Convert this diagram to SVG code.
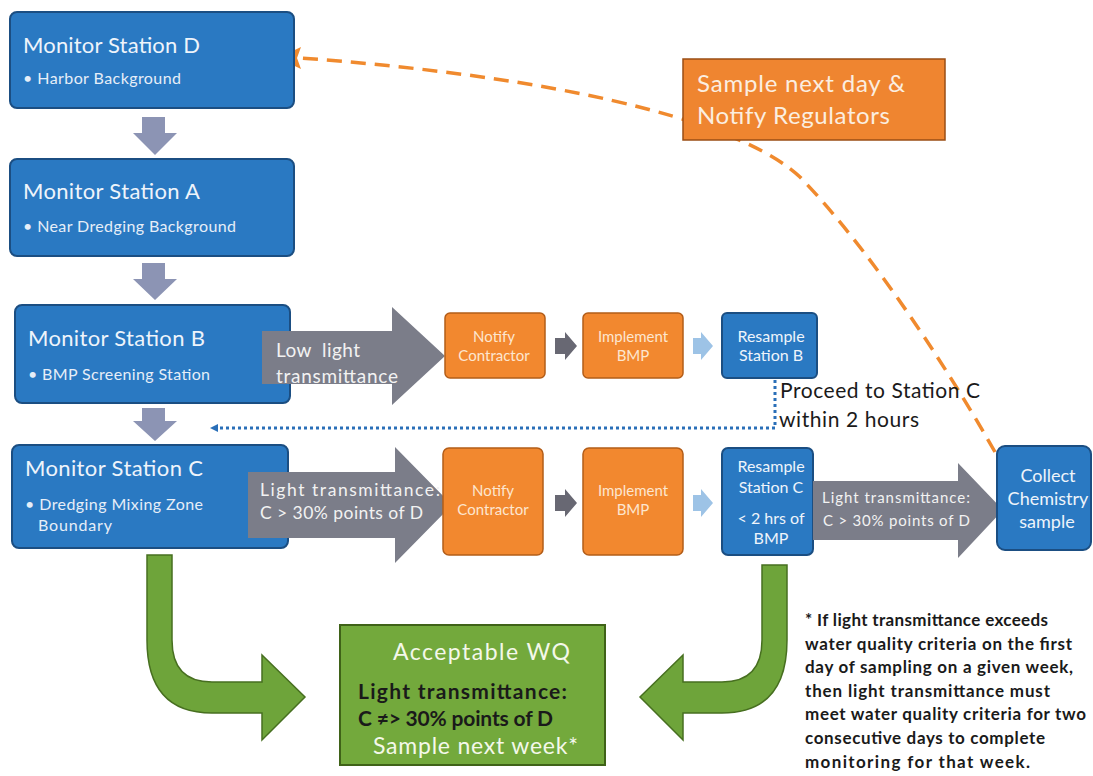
<svg xmlns="http://www.w3.org/2000/svg" width="1093" height="776" viewBox="0 0 1093 776">
<defs>
<style>
.blue{fill:#2a79c2;stroke:#1b4e82;stroke-width:2}
.orange{fill:#f2882f;stroke:#b35d18;stroke-width:1.5}
.t{font-family:Lato,"Open Sans",sans-serif}
.title{font-size:22px;fill:#eef4fb}
.bul{font-size:16px;fill:#e6eef8}
.ot{font-size:15px;fill:#fde6cf;text-anchor:middle}
.bt{font-size:16px;fill:#eef4fb;text-anchor:middle}
.gt{fill:#f2f2f2}
.down{fill:#8c94b4}
.bigg{fill:#7b7d89}
.green{fill:#6ea43a;stroke:#476f20;stroke-width:1.5}
.foot{font-size:17px;fill:#1a1a1a;font-weight:bold}
</style>
<marker id="blueHead" markerWidth="8" markerHeight="8" refX="6" refY="4" orient="auto" markerUnits="userSpaceOnUse">
<path d="M0,0 L8,4 L0,8 Z" fill="#2a6fb8"/>
</marker>
</defs>
<rect width="1093" height="776" fill="#ffffff"/>

<g id="connectors">
<path class="down" d="M142,117 H165 V133 H177 L155,155 L133,133 H142 Z"/>
<path class="down" d="M142,263 H165 V279 H177 L155,300 L133,279 H142 Z"/>
<path class="down" d="M142,408 H165 V421 H177 L155,441 L133,421 H142 Z"/>
<path d="M775,380 V428 H212" fill="none" stroke="#2a6fb8" stroke-width="3" stroke-dasharray="3 3" marker-end="url(#blueHead)"/>
<path d="M995,452 C960,390 880,260 800,177 C750,130 600,80 300,58" fill="none" stroke="#f08a2e" stroke-width="3.5" stroke-dasharray="15 9"/>
<path d="M278,58 L301,47 L297,58 L301,69 Z" fill="#f08a2e"/>
<path d="M555,338 H565 V332 L577,346 L565,360 V354 H555 Z" fill="#686873"/>
<path d="M693,338 H701 V332 L713,346 L701,360 V354 H693 Z" fill="#9dc3e6"/>
<path d="M555,495 H565 V489 L577,503 L565,517 V511 H555 Z" fill="#686873"/>
<path d="M693,495 H701 V489 L713,503 L701,517 V511 H693 Z" fill="#9dc3e6"/>
<path class="green" d="M147,555 H172 V640 Q172,682 212,682 H262 V655 L305,697 L262,740 V713 H212 Q147,713 147,640 Z"/>
<path class="green" d="M787,565 H762 V640 Q762,682 722,682 H683 V655 L640,697 L683,740 V713 H722 Q787,713 787,640 Z"/>
</g>

<g id="stationD">
<rect class="blue" x="10" y="12" width="284" height="96" rx="7"/>
<text class="t title" x="23" y="53" textLength="177">Monitor Station D</text>
<text class="t bul" x="23" y="84" textLength="158">• Harbor Background</text>
</g>
<g id="stationA">
<rect class="blue" x="10" y="159" width="284" height="97" rx="7"/>
<text class="t title" x="23" y="199" textLength="177">Monitor Station A</text>
<text class="t bul" x="23" y="232" textLength="213">• Near Dredging Background</text>
</g>
<g id="stationB">
<rect class="blue" x="15" y="305" width="275" height="98" rx="7"/>
<text class="t title" x="28" y="346" textLength="177">Monitor Station B</text>
<text class="t bul" x="28" y="380" textLength="182">• BMP Screening Station</text>
</g>
<g id="stationC">
<rect class="blue" x="12" y="445" width="276" height="103" rx="7"/>
<text class="t title" x="25" y="476" textLength="178">Monitor Station C</text>
<text class="t bul" x="25" y="510" textLength="178">• Dredging Mixing Zone</text>
<text class="t bul" x="38" y="531" textLength="74">Boundary</text>
</g>

<g id="arrowLowLight">
<path class="bigg" d="M262,331 H392 V307 L445,356 L392,405 V384 H262 Z"/>
<text class="t" x="276" y="357" font-size="19" fill="#f2f2f2" textLength="84">Low&#160; light</text>
<text class="t" x="276" y="383" font-size="19" fill="#f2f2f2" textLength="122">transmittance</text>
</g>
<g id="notifyB">
<rect class="orange" x="445" y="313" width="100" height="65" rx="5"/>
<text class="t ot" x="494" y="342">Notify</text>
<text class="t ot" x="494" y="361">Contractor</text>
</g>
<g id="implementB">
<rect class="orange" x="583" y="313" width="100" height="65" rx="5"/>
<text class="t ot" x="633" y="342">Implement</text>
<text class="t ot" x="633" y="361">BMP</text>
</g>
<g id="resampleB">
<rect class="blue" x="722" y="313" width="95" height="65" rx="5"/>
<text class="t bt" x="771" y="342">Resample</text>
<text class="t bt" x="771" y="361">Station B</text>
</g>
<g id="proceedLabel">
<text class="t" x="780" y="398" font-size="21" fill="#1a1a1a" textLength="200">Proceed to Station C</text>
<text class="t" x="779" y="427" font-size="21" fill="#1a1a1a" textLength="140">within 2 hours</text>
</g>

<g id="arrowC1">
<path class="bigg" d="M248,472 H395 V447 L452,505 L395,563 V538 H248 Z"/>
<text class="t gt" x="260" y="496" font-size="17.5" textLength="180">Light transmittance:</text>
<text class="t gt" x="260" y="519" font-size="17.5" textLength="163">C &gt; 30% points of D</text>
</g>
<g id="notifyC">
<rect class="orange" x="443" y="448" width="100" height="107" rx="6"/>
<text class="t ot" x="493" y="496">Notify</text>
<text class="t ot" x="493" y="515">Contractor</text>
</g>
<g id="implementC">
<rect class="orange" x="583" y="448" width="100" height="107" rx="6"/>
<text class="t ot" x="633" y="496">Implement</text>
<text class="t ot" x="633" y="515">BMP</text>
</g>
<g id="resampleC">
<rect class="blue" x="722" y="448" width="91" height="107" rx="6"/>
<text class="t bt" x="771" y="472">Resample</text>
<text class="t bt" x="771" y="493">Station C</text>
<text class="t bt" x="771" y="524">&lt; 2 hrs of</text>
<text class="t bt" x="771" y="544">BMP</text>
</g>
<g id="arrowC2">
<path class="bigg" d="M813,481 H958 V463 L1003,510 L958,558 V540 H813 Z"/>
<text class="t gt" x="822" y="503" font-size="15" textLength="148">Light transmittance:</text>
<text class="t gt" x="823" y="526" font-size="15" textLength="147">C &gt; 30% points of D</text>
</g>
<g id="collect">
<rect class="blue" x="997" y="446" width="94" height="104" rx="8"/>
<text class="t" x="1048" y="482" font-size="18" fill="#eef4fb" text-anchor="middle">Collect</text>
<text class="t" x="1048" y="505" font-size="18" fill="#eef4fb" text-anchor="middle">Chemistry</text>
<text class="t" x="1047" y="528" font-size="18" fill="#eef4fb" text-anchor="middle">sample</text>
</g>

<g id="notifyRegulators">
<rect x="683" y="59" width="262" height="81" fill="#ef8530" stroke="#9a4e14" stroke-width="1.5"/>
<text class="t" x="697" y="92" font-size="24" fill="#fbeee0" textLength="208">Sample next day &amp;</text>
<text class="t" x="697" y="124" font-size="24" fill="#fbeee0" textLength="193">Notify Regulators</text>
</g>

<g id="acceptable">
<rect x="340" y="625" width="265" height="140" fill="#73a93c" stroke="#3f6218" stroke-width="2"/>
<text class="t" x="393" y="660" font-size="23" fill="#f4f8ea" textLength="177">Acceptable WQ</text>
<text class="t" x="358" y="699" font-size="21" font-weight="bold" fill="#1a1a1a" textLength="209">Light transmittance:</text>
<text class="t" x="358" y="726" font-size="21" font-weight="bold" fill="#1a1a1a" textLength="195">C ≠&gt; 30% points of D</text>
<text class="t" x="373" y="754" font-size="23" fill="#f4f8ea" textLength="205">Sample next week*</text>
</g>

<g id="footnote">
<text class="t foot" x="805" y="626" textLength="243">* If light transmittance exceeds</text>
<text class="t foot" x="805" y="650" textLength="267">water quality criteria on the first</text>
<text class="t foot" x="805" y="673" textLength="268">day of sampling on a given week,</text>
<text class="t foot" x="805" y="697" textLength="245">then light transmittance must</text>
<text class="t foot" x="805" y="720" textLength="281">meet water quality criteria for two</text>
<text class="t foot" x="805" y="744" textLength="240">consecutive days to complete</text>
<text class="t foot" x="805" y="768" textLength="225">monitoring for that week.</text>
</g>
</svg>
